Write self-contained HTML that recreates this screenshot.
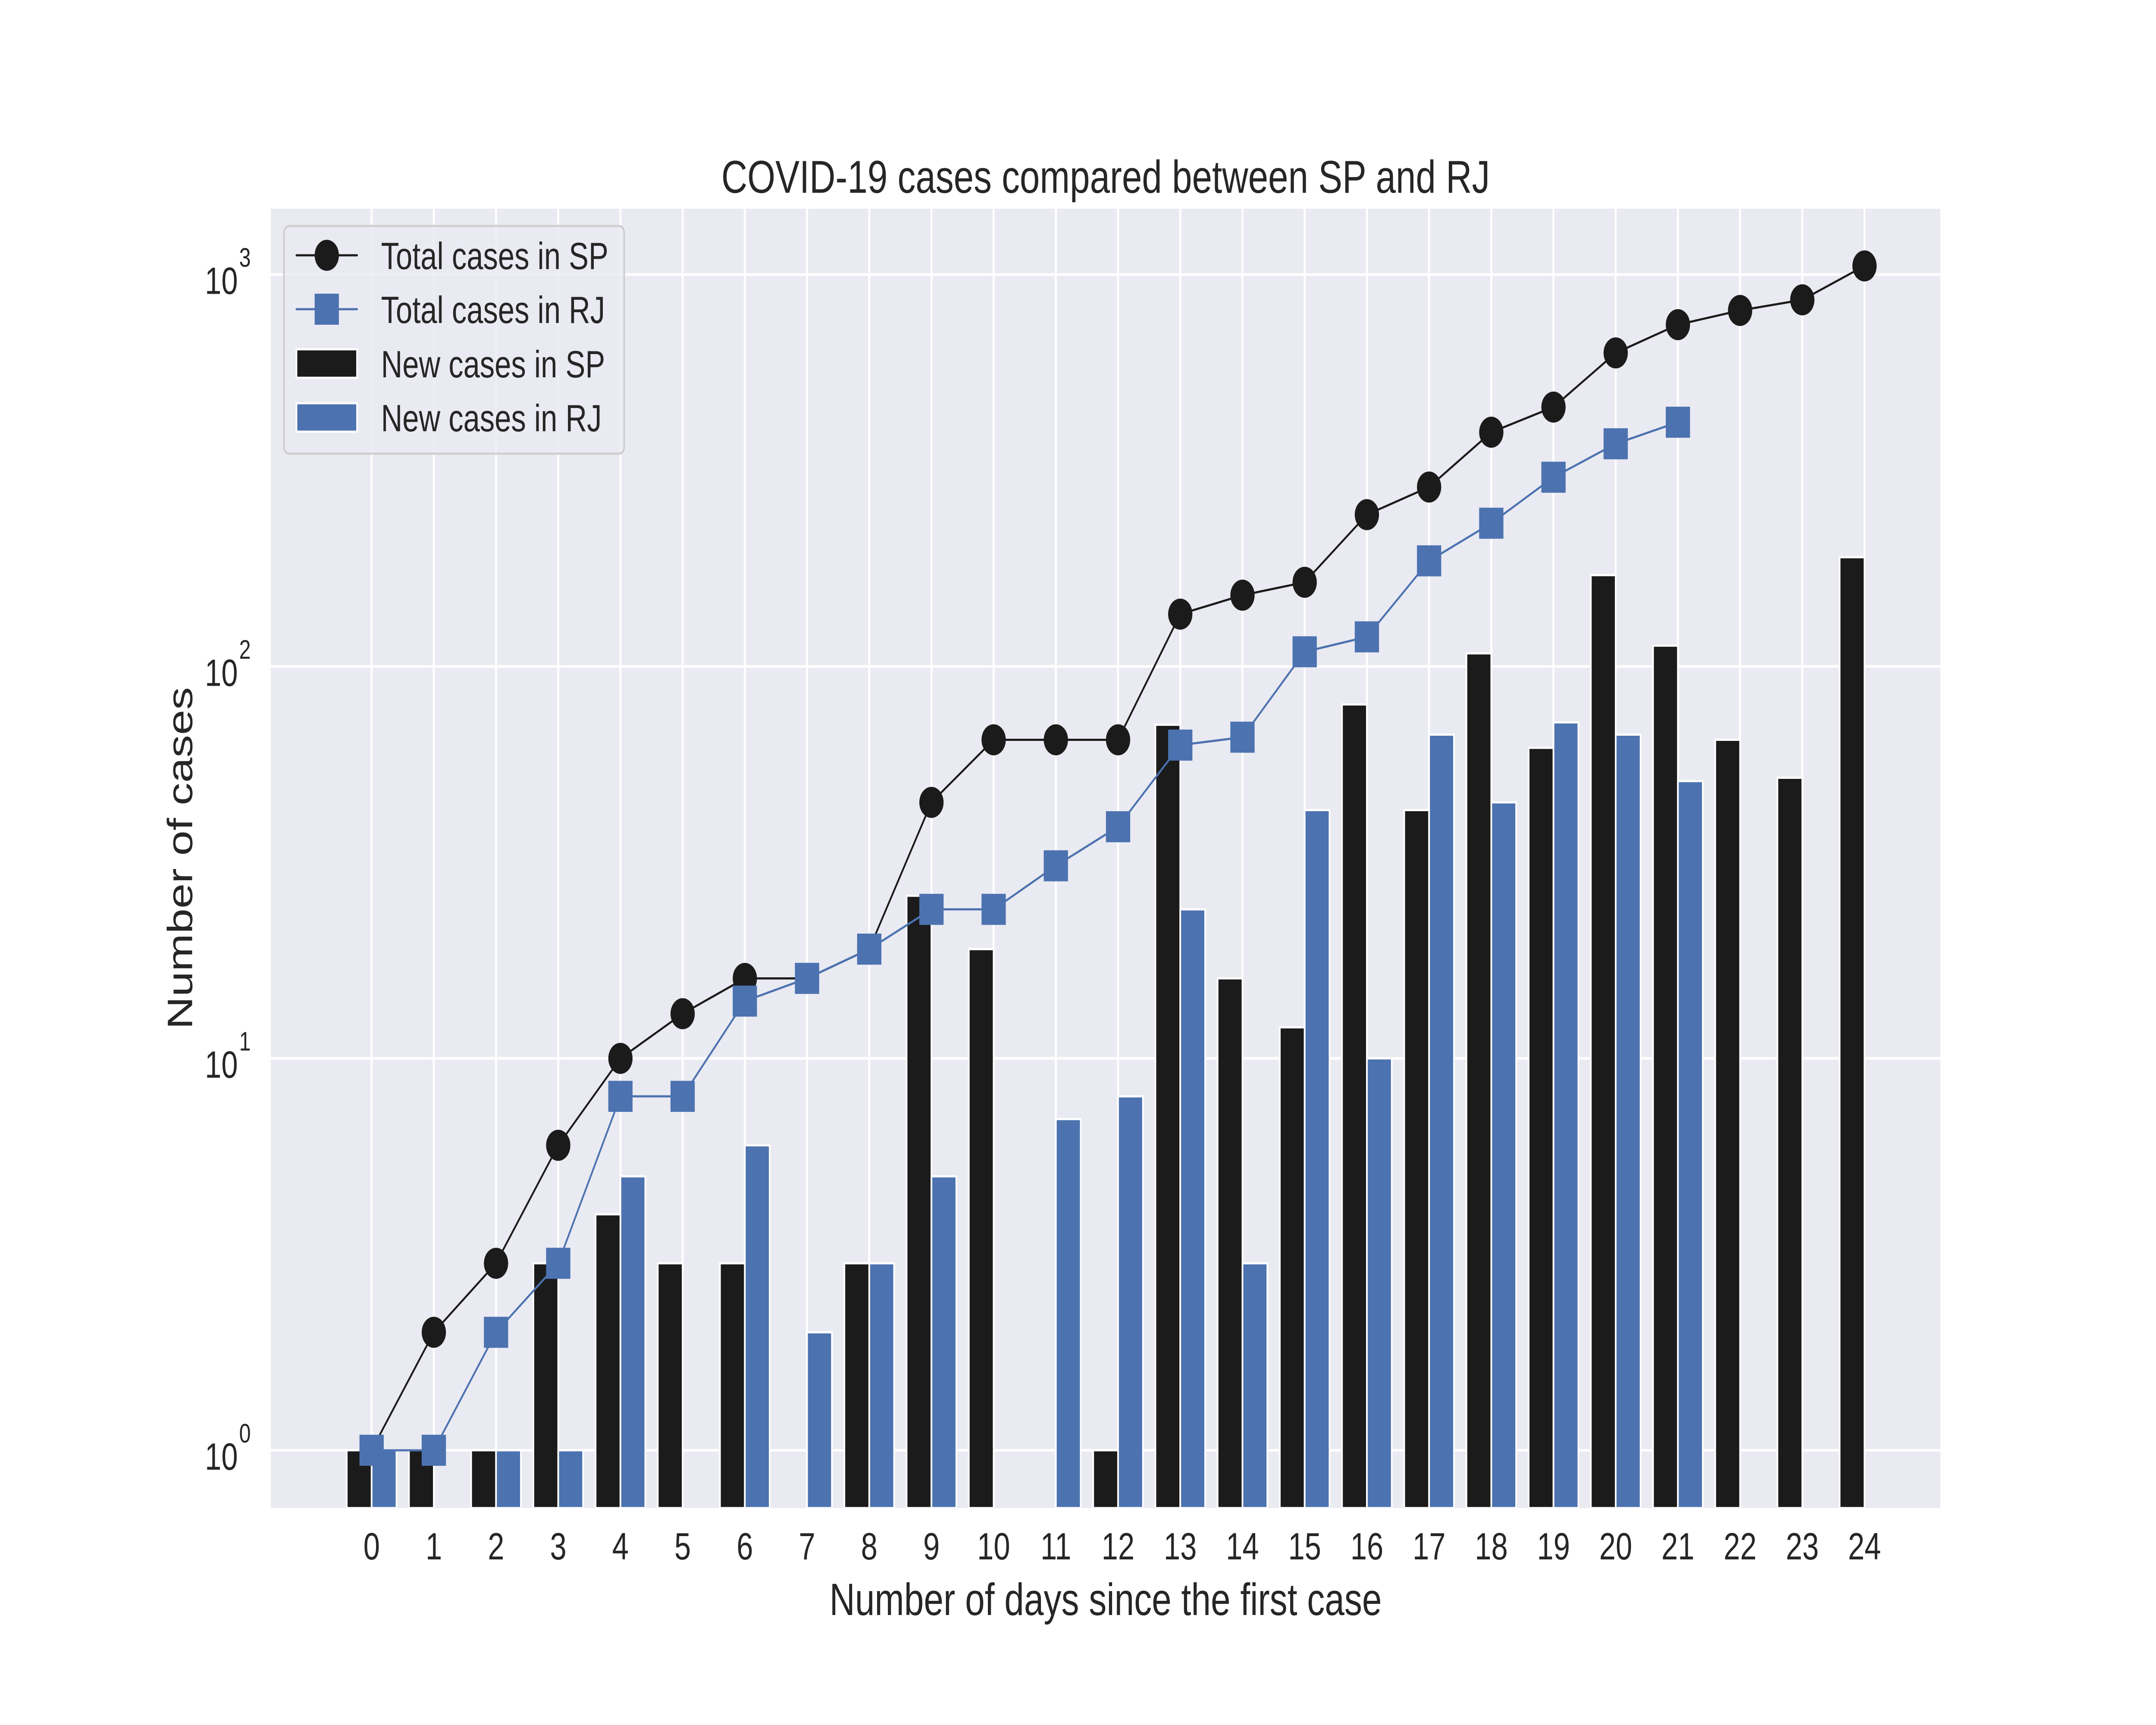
<!DOCTYPE html>
<html><head><meta charset="utf-8"><style>
html,body{margin:0;padding:0;background:#fff;width:100%;height:100%;overflow:hidden}
svg{display:block;position:absolute;left:0;top:0;width:100vw;height:100vh}
svg text{font-family:"Liberation Sans",Arial,sans-serif;fill:#262626}
</style></head><body>
<svg id="chart" xmlns="http://www.w3.org/2000/svg" viewBox="0 0 6400 4000" preserveAspectRatio="none">
<rect x="0" y="0" width="6400" height="4000" fill="#fff"/>
<rect x="804" y="484" width="4956" height="3013" fill="#eaeaf2"/>
<g id="grid"></g>
<g id="bars"></g>
<g id="lines"></g>
<g id="ticks"></g>
<text x="3282" y="447" font-size="107" text-anchor="middle">COVID-19 cases compared between SP and RJ</text>
<text x="3282" y="3745" font-size="105" text-anchor="middle">Number of days since the first case</text>
<text transform="translate(570,1990) rotate(-90)" font-size="105" text-anchor="middle">Number of cases</text>
<g>
<rect x="843" y="524" width="1010" height="528" rx="16" fill="#eaeaf2" fill-opacity="0.8" stroke="#cfcfcf" stroke-width="5"/>
<g>
<line x1="880" y1="592" x2="1060" y2="592" stroke="#1b1b1b" stroke-width="5" stroke-linecap="round"/>
<circle cx="970" cy="592" r="36" fill="#1b1b1b"/>
<text x="1131" y="624" font-size="88">Total cases in SP</text></g>
<g>
<line x1="880" y1="717" x2="1060" y2="717" stroke="#4c72b0" stroke-width="5" stroke-linecap="round"/>
<rect x="934" y="681" width="72" height="72" fill="#4c72b0"/>
<text x="1131" y="749" font-size="88">Total cases in RJ</text></g>
<g>
<rect x="880" y="810" width="180" height="66" fill="#1b1b1b" stroke="#fff" stroke-width="5"/>
<text x="1131" y="875" font-size="88">New cases in SP</text></g>
<g>
<rect x="880" y="935" width="180" height="66" fill="#4c72b0" stroke="#fff" stroke-width="5"/>
<text x="1131" y="1000" font-size="88">New cases in RJ</text></g>
</g>
</svg>
<script>
const days = [0,1,2,3,4,5,6,7,8,9,10,11,12,13,14,15,16,17,18,19,20,21,22,23,24];
const totalSP = [1,2,3,6,10,13,16,16,19,45,65,65,65,136,152,164,244,287,396,459,631,745,810,862,1052];
const totalRJ = [1,1,2,3,8,8,14,16,19,24,24,31,39,63,66,109,119,186,232,304,370,420];
const newSP = [1,1,1,3,4,3,3,0,3,26,19,0,1,71,16,12,80,43,108,62,171,113,65,52,190];
const newRJ = [1,0,1,1,5,0,6,2,3,5,0,7,8,24,3,43,10,67,45,72,67,51];
const yTickExps = [0,1,2,3];
const xTickLabels = ["0","1","2","3","4","5","6","7","8","9","10","11","12","13","14","15","16","17","18","19","20","21","22","23","24"];

const NS="http://www.w3.org/2000/svg";
const L=804,R=5760,T=484,B=3497;
const xmin=-1.62,xmax=25.22;
const lmin=-0.1475,lmax=3.168;
function X(v){return L+(v-xmin)/(xmax-xmin)*(R-L);}
function Y(v){return B-(Math.log10(v)-lmin)/(lmax-lmin)*(B-T);}
function mk(tag,attrs,parent){const e=document.createElementNS(NS,tag);for(const k in attrs)e.setAttribute(k,attrs[k]);parent.appendChild(e);return e;}
const grid=document.getElementById('grid'),bars=document.getElementById('bars'),lines=document.getElementById('lines'),ticks=document.getElementById('ticks');

days.forEach((d,i)=>{
  const g=mk('line',{x1:X(d),x2:X(d),y1:T,y2:B,stroke:'#fff','stroke-width':6},grid);
  
  
  const t=mk('text',{x:X(d),y:3616,'font-size':88,'text-anchor':'middle'},ticks);
  t.textContent=xTickLabels[i];
  
  
});
yTickExps.forEach(e=>{
  const y=Y(Math.pow(10,e));
  const g=mk('line',{x1:L,x2:R,y1:y,y2:y,stroke:'#fff','stroke-width':6},grid);
  
  
  const t=mk('text',{x:706,y:y+45,'font-size':88,'text-anchor':'end'},ticks);
  t.textContent='10';
  
  
  const s=mk('text',{x:710,y:y-18,'font-size':62},ticks);
  s.textContent=String(e);
  
  
});
newSP.forEach((v,i)=>{
  if(v<=0)return;
  const x0=X(days[i]-0.4),x1=X(days[i]);
  const r=mk('rect',{x:x0,y:Y(v),width:x1-x0,height:B-Y(v),fill:'#1b1b1b',stroke:'#fff','stroke-width':5},bars);
  
  
});
newRJ.forEach((v,i)=>{
  if(v<=0)return;
  const x0=X(days[i]),x1=X(days[i]+0.4);
  const r=mk('rect',{x:x0,y:Y(v),width:x1-x0,height:B-Y(v),fill:'#4c72b0',stroke:'#fff','stroke-width':5},bars);
  
  
});
const pSP=mk('polyline',{points:totalSP.map((v,i)=>X(days[i])+','+Y(v)).join(' '),fill:'none',stroke:'#1b1b1b','stroke-width':5},lines);


totalSP.forEach((v,i)=>{
  const c=mk('circle',{cx:X(days[i]),cy:Y(v),r:36,fill:'#1b1b1b'},lines);
  
  
});
const pRJ=mk('polyline',{points:totalRJ.map((v,i)=>X(days[i])+','+Y(v)).join(' '),fill:'none',stroke:'#4c72b0','stroke-width':5},lines);


totalRJ.forEach((v,i)=>{
  const s=mk('rect',{x:X(days[i])-36,y:Y(v)-36,width:72,height:72,fill:'#4c72b0'},lines);
  
  
});
</script>
</body></html>
